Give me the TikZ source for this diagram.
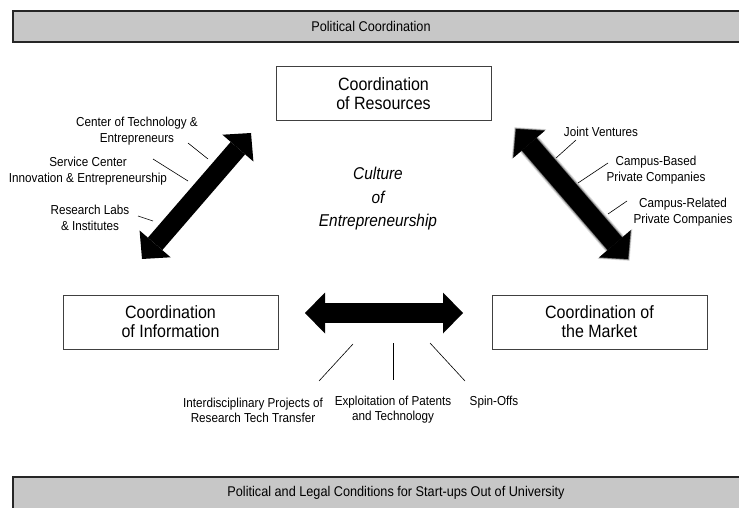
\documentclass[tikz,border=0pt]{standalone}
\usepackage{fontspec}
\setmainfont{Liberation Sans}[FakeStretch=0.9]
\usetikzlibrary{arrows.meta}

\begin{document}
\begin{tikzpicture}[x=1pt,y=-1pt,
    coordbox/.style={draw=black!75,line width=0.9pt,minimum width=215pt,minimum height=54pt,align=center,inner sep=0pt,font=\fontsize{17.8}{19}\selectfont},
    lbl/.style={align=center,inner sep=0pt,font=\fontsize{13}{16}\selectfont},
    bartext/.style={inner sep=0pt,font=\fontsize{14.1}{15}\selectfont},
    lead/.style={line width=0.6pt},
    bigarrow/.style={line width=#1,arrows={Triangle[length=20pt,width=41pt,line width=0pt]-Triangle[length=20pt,width=41pt,line width=0pt]}},
    fuzz/.style n args={3}{preaction={draw=black!#1,line width=#2,shorten <=-#3,shorten >=-#3,arrows={Triangle[length=20pt+#3,width=41pt+2*#3,line width=0pt]-Triangle[length=20pt+#3,width=41pt+2*#3,line width=0pt]}}}]
    \useasboundingbox (0,0) rectangle (739,508);
    \clip (0,0) rectangle (739,508);

    % bars at top and bottom
    \fill[black!22] (13,11) rectangle (739,42);
    \draw[black!85,line width=1.2pt] (739,11)--(13,11)--(13,42)--(739,42);
    \fill[black!22] (13,477) rectangle (739,508);
    \draw[black!85,line width=1.2pt] (739,477)--(13,477)--(13,508);
    \node[bartext] (polcoord) at (371,26.5) {Political Coordination};
    \node[bartext] (polcond) at (396,492.5) {Political and Legal Conditions for Start-ups Out of University};

    % the three coordination boxes
    \node[coordbox] (res) at (383.5,93.5) {Coordination\\of Resources};
    \node[coordbox] (info) at (170.5,322) {Coordination\\of Information};
    \node[coordbox] (mkt) at (599.5,322) {Coordination of\\the Market};

    \node[align=center,inner sep=0pt,font=\fontsize{17.1}{23.5}\selectfont\itshape] (culture) at (378,199) {Culture\\of\\Entrepreneurship};

    % double arrows
    \coordinate (ir-a) at (142,259);
    \coordinate (ir-b) at (251,133);
    \coordinate (rm-a) at (516,129);
    \coordinate (rm-b) at (628,259);
    \coordinate (im-a) at (305,313);
    \coordinate (im-b) at (463,313);
    \draw[bigarrow=19pt] (ir-a)--(ir-b);
    \draw[bigarrow=19pt,fuzz={12}{24pt}{2.5pt},fuzz={35}{22pt}{1.5pt},fuzz={70}{20pt}{0.7pt}] (rm-a)--(rm-b);
    \draw[line width=20pt,arrows={Triangle[length=20pt,width=41pt,line width=0pt]-Triangle[length=20pt,width=41pt,line width=0pt]}] (im-a)--(im-b);

    % labels on the left arrow
    \node[lbl] (ctr) at (137,131) {Center of Technology \&\\Entrepreneurs};
    \node[lbl] (svc) at (88,171) {Service Center\\Innovation \& Entrepreneurship};
    \node[lbl] (labs) at (90,218) {Research Labs\\\& Institutes};
    \coordinate (ctr-a) at (188,143);
    \coordinate (ctr-b) at (208,159);
    \coordinate (svc-a) at (153,159);
    \coordinate (svc-b) at (188,181);
    \coordinate (labs-a) at (138,216);
    \coordinate (labs-b) at (153,221);
    \draw[lead] (ctr-a)--(ctr-b);
    \draw[lead] (svc-a)--(svc-b);
    \draw[lead] (labs-a)--(labs-b);

    % labels on the right arrow
    \node[lbl] (joint) at (601,132) {Joint Ventures};
    \node[lbl] (based) at (656,170) {Campus-Based\\Private Companies};
    \node[lbl] (related) at (683,212) {Campus-Related\\Private Companies};
    \coordinate (joint-a) at (576,140);
    \coordinate (joint-b) at (556,158);
    \coordinate (based-a) at (608,163);
    \coordinate (based-b) at (578,183);
    \coordinate (related-a) at (627,201);
    \coordinate (related-b) at (608,214);
    \draw[lead] (joint-a)--(joint-b);
    \draw[lead] (based-a)--(based-b);
    \draw[lead] (related-a)--(related-b);

    % labels under the horizontal arrow
    \node[lbl,font=\fontsize{13}{15}\selectfont] (inter) at (253,410) {Interdisciplinary Projects of\\Research Tech Transfer};
    \node[lbl,font=\fontsize{13}{15}\selectfont] (patent) at (393,410) {Exploitation of Patents\\and Technology};
    \node[lbl] (spin) at (494,402) {Spin-Offs};
    \coordinate (inter-a) at (353,344);
    \coordinate (inter-b) at (319,381);
    \coordinate (patent-a) at (393,343);
    \coordinate (patent-b) at (393,380);
    \coordinate (spin-a) at (430,343);
    \coordinate (spin-b) at (465,381);
    \draw[lead] (inter-a)--(inter-b);
    \draw[lead] (patent-a)--(patent-b);
    \draw[lead] (spin-a)--(spin-b);
\end{tikzpicture}
\end{document}
